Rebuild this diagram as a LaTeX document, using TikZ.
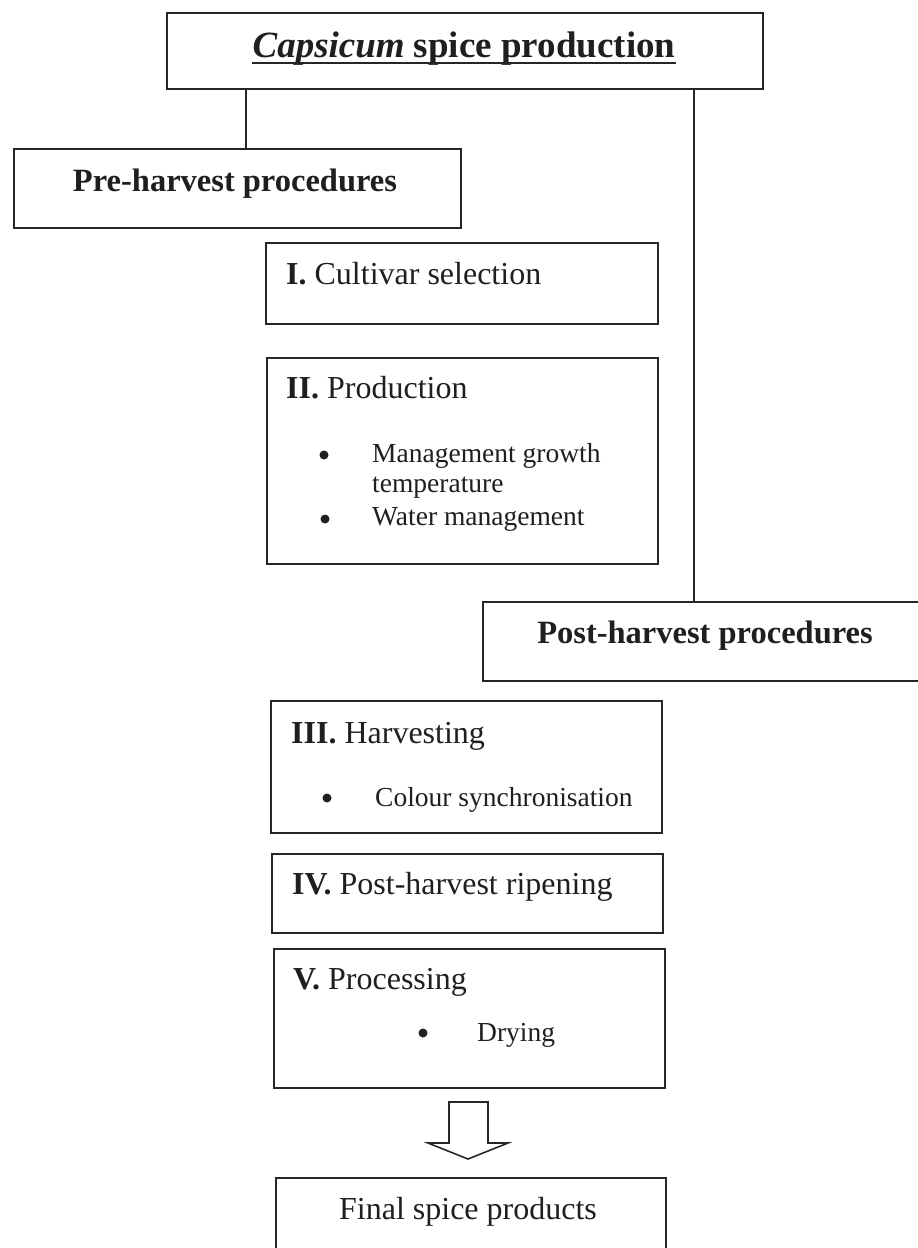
\documentclass[tikz,border=0pt]{standalone}
\usepackage{fontspec}
\setmainfont{Liberation Serif}
\begin{document}
\begin{tikzpicture}[x=1pt,y=-1pt,
  box/.style={draw=black!85, line width=1.6pt, rectangle, inner sep=0pt, anchor=north west},
  lbl/.style={text=black!88, inner sep=0pt},
  big/.style={lbl, font=\fontsize{37}{44}\selectfont\bfseries},
  head/.style={lbl, font=\fontsize{32.5}{38}\selectfont\bfseries},
  stxt/.style={lbl, anchor=base west, font=\fontsize{32}{38}\selectfont},
  btxt/.style={lbl, anchor=base west, font=\fontsize{27.5}{31}\selectfont},
  dot/.style={circle, fill=black!88, inner sep=0pt, minimum size=9pt},
  conn/.style={draw=black!85, line width=1.6pt}]
\clip (0,0) rectangle (918,1248);
\fill[white] (0,0) rectangle (918,1248);
% boxes
\node[box, minimum width=596, minimum height=76] (top) at (166,12) {};
\node[box, minimum width=447, minimum height=79] (pre) at (13,148) {};
\node[box, minimum width=392, minimum height=81] (cult) at (265,242) {};
\node[box, minimum width=391, minimum height=206] (prod) at (266,357) {};
\node[box, minimum width=460, minimum height=79] (post) at (482,601) {};
\node[box, minimum width=391, minimum height=132] (harv) at (270,700) {};
\node[box, minimum width=391, minimum height=79] (ripe) at (271,853) {};
\node[box, minimum width=391, minimum height=139] (proc) at (273,948) {};
\node[box, minimum width=390, minimum height=100] (final) at (275,1177) {};
% texts
\node[big, anchor=base] (title) at (464,57) {\textit{Capsicum} spice production};
\draw[line width=2.2pt, black!85] ([yshift=-6pt]title.base west) -- ([yshift=-6pt]title.base east);
\node[head, anchor=base] (preT) at (235,191) {Pre-harvest procedures};
\node[head, anchor=base] (postT) at (705,643) {Post-harvest procedures};
\node[stxt] (cultT) at (286,284) {\textbf{I.} Cultivar selection};
\node[stxt] (prodT) at (286,398) {\textbf{II.} Production};
\node[dot] (b1) at (324,455) {};
\node[btxt] (b1T) at (372,462) {Management growth};
\node[btxt] (b1T2) at (372,492) {temperature};
\node[dot] (b2) at (325,519) {};
\node[btxt] (b2T) at (372,525) {Water management};
\node[stxt] (harvT) at (291,743) {\textbf{III.} Harvesting};
\node[dot] (b3) at (327,798) {};
\node[btxt] (b3T) at (375,806) {Colour synchronisation};
\node[stxt] (ripeT) at (292,894) {\textbf{IV.} Post-harvest ripening};
\node[stxt] (procT) at (293,989) {\textbf{V.} Processing};
\node[dot] (b4) at (423,1033) {};
\node[btxt] (b4T) at (477,1041) {Drying};
\node[stxt, anchor=base] (finalT) at (468,1219) {Final spice products};
% connectors
\coordinate (lx) at (246,0);
\coordinate (rx) at (694,0);
\draw[conn] (top.south -| lx) -- (pre.north -| lx);
\draw[conn] (top.south -| rx) -- (post.north -| rx);
% block arrow
\draw[conn, line join=miter] (449,1102) -- (449,1143) -- (428,1143) -- (468,1159) -- (508,1143) -- (488,1143) -- (488,1102) -- cycle;
\end{tikzpicture}
\end{document}
